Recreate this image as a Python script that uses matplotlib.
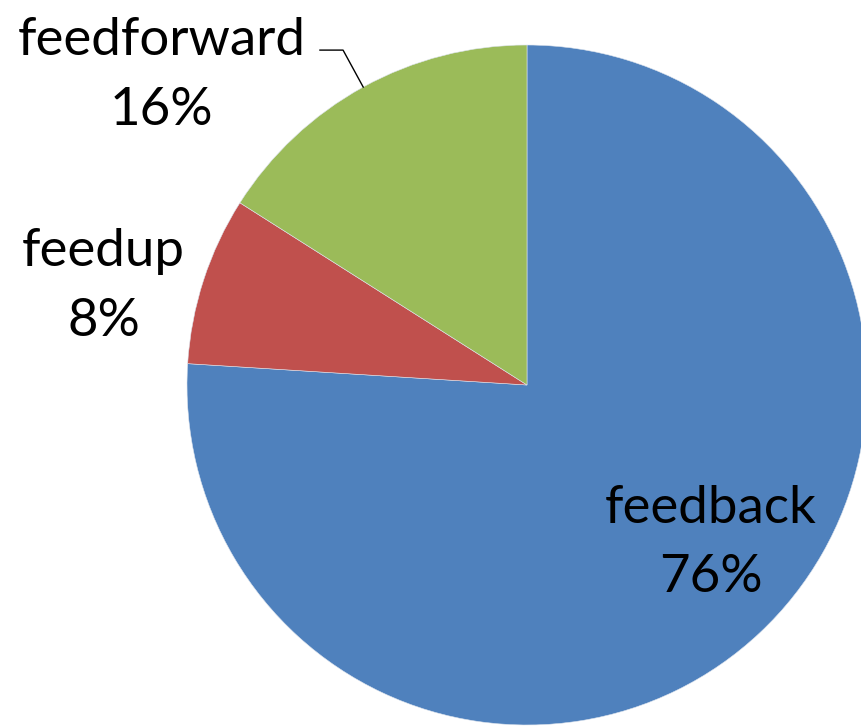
import matplotlib.pyplot as plt
import numpy as np

labels = ["feedback", "feedup", "feedforward"]
shares = [76, 8, 16]
colors = ["#4F81BD", "#C0504D", "#9BBB59"]
# label text centres (data units, pie radius = 1)
label_pos = [(0.54, -0.465), (-1.245, 0.29), (-1.075, 0.91)]

plt.rcParams['font.family'] = ['Lato', 'DejaVu Sans']

fig = plt.figure(figsize=(8.61, 7.27), dpi=100)
ax = fig.add_axes([0, 0, 1, 1])

wedges, _ = ax.pie(shares, colors=colors, startangle=90, counterclock=False,
                   radius=1, center=(0, 0),
                   wedgeprops=dict(edgecolor="#dde4ee", linewidth=0.4))

for w, lab, val, pos in zip(wedges, labels, shares, label_pos):
    ax.text(pos[0], pos[1], "%s\n%d%%" % (lab, val), ha="center", va="center",
            fontsize=38, linespacing=1.6, color="black")

# leader line for feedforward
w = wedges[2]
mid = np.deg2rad((w.theta1 + w.theta2) / 2)
p0 = (np.cos(mid), np.sin(mid))
ax.plot([p0[0], -0.541, -0.609], [p0[1], 0.985, 0.985], color="black", lw=1)

ax.set_xlim(-527 / 340, (861 - 527) / 340)
ax.set_ylim(-(727 - 385) / 340, 385 / 340)
ax.set_aspect("auto")
ax.axis("off")

fig.savefig("out.png", dpi=100)
